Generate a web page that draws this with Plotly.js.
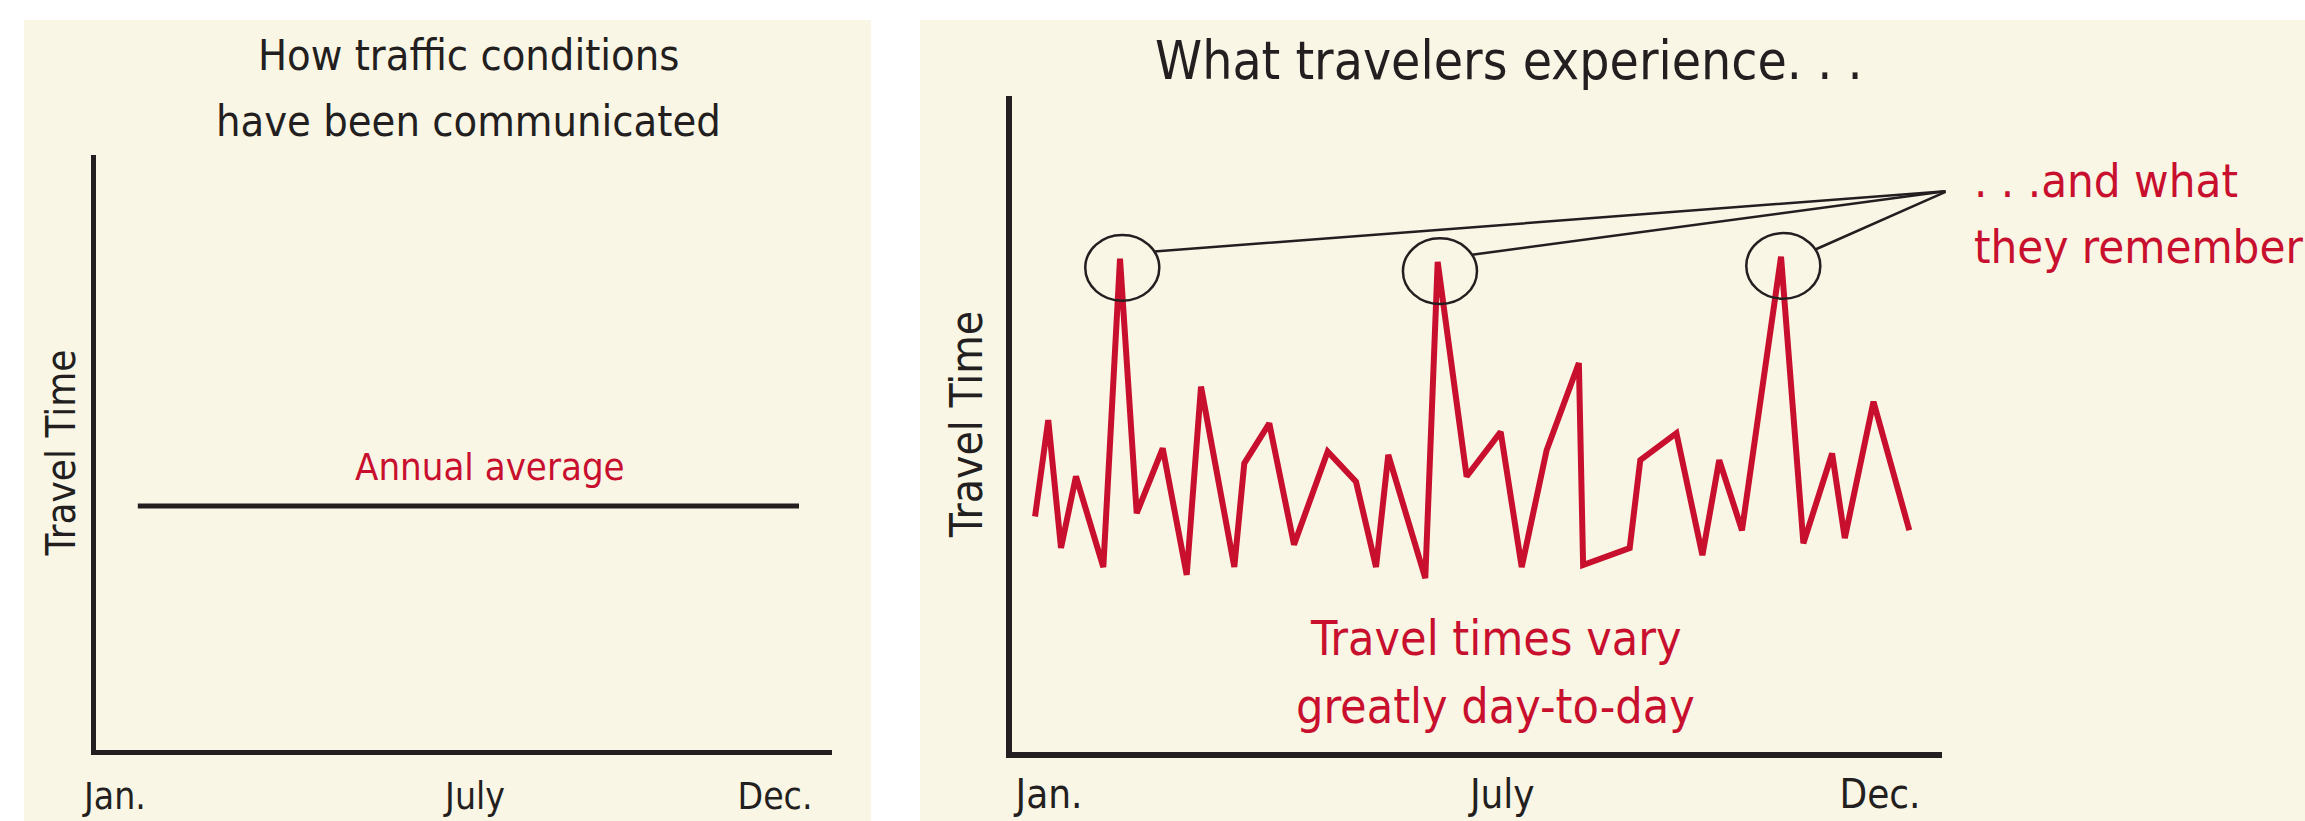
<!DOCTYPE html>
<html><head><meta charset="utf-8">
<script src="https://cdn.plot.ly/plotly-3.0.1.min.js"></script>
<style>html,body{margin:0;padding:0;background:#fff;overflow:hidden}#chart{width:2305px;height:821px}</style>
</head><body><div id="chart"></div>
<script>
// ---- data ----
const monthTickVals = [1, 7, 12];
const monthTickText = ['Jan.', 'July', 'Dec.'];
const annualAverageValue = 41.0;
const annualAverageStart = 1.38;
const annualAverageEnd = 12.4;
const dayMonth = [0.815, 0.99, 1.159, 1.357, 1.719, 1.94, 2.161, 2.505, 2.823, 3.012,
  3.453, 3.585, 3.916, 4.243, 4.689, 5.064, 5.329, 5.491, 5.981, 6.145,
  6.528, 6.979, 7.257, 7.587, 8.014, 8.07, 8.687, 8.827, 9.305, 9.649,
  9.872, 10.173, 10.69, 10.986, 11.366, 11.534, 11.914, 12.388];
const dayTravelTime = [35.9, 50.6, 31.1, 42.0, 28.2, 75.2, 36.4, 46.3, 27.0, 55.7,
  28.2, 44.0, 50.1, 31.6, 45.8, 41.2, 28.2, 45.3, 26.5, 74.7,
  42.0, 48.8, 28.2, 46.0, 59.3, 28.5, 31.1, 44.5, 48.6, 30.0,
  44.5, 33.8, 75.5, 31.8, 45.5, 32.6, 53.4, 33.8];
const rememberedPeaks = [5, 19, 32];

// ---- style ----
const W = 2305, H = 821;
const FONT = '"Liberation Sans Narrow", "DejaVu Sans Condensed", "Liberation Sans", sans-serif';
const CREAM = '#FAF6E6', RED = '#C8102E', INK = '#231F20';
const fx = p => p / W;
const fy = p => 1 - p / H;

const traces = [
  {x: [annualAverageStart, annualAverageEnd], y: [annualAverageValue, annualAverageValue],
   xaxis: 'x', yaxis: 'y', mode: 'lines', line: {color: INK, width: 5}, hoverinfo: 'skip'},
  {x: dayMonth, y: dayTravelTime, xaxis: 'x2', yaxis: 'y2', mode: 'lines',
   line: {color: RED, width: 6}, hoverinfo: 'skip'}
];

const axisCommon = {showgrid: false, zeroline: false, showline: true, linecolor: INK,
  ticks: '', fixedrange: true};

// circles around peaks + leader lines
const rx = 0.49, ry = 5.0;
const meet = {x: 12.887, y: 85.5};
const shapes = [
  {type: 'rect', xref: 'paper', yref: 'paper', x0: fx(24), x1: fx(871), y0: 0, y1: fy(20),
   fillcolor: CREAM, line: {width: 0}, layer: 'below'},
  {type: 'rect', xref: 'paper', yref: 'paper', x0: fx(920), x1: 1, y0: 0, y1: fy(20),
   fillcolor: CREAM, line: {width: 0}, layer: 'below'}
];
const annotations = [];
rememberedPeaks.forEach(i => {
  const cx = dayMonth[i] + 0.03, cy = dayTravelTime[i] - 1.4;
  shapes.push({type: 'circle', xref: 'x2', yref: 'y2', x0: cx - rx, x1: cx + rx,
    y0: cy - ry, y1: cy + ry, line: {color: INK, width: 2.5}, fillcolor: 'rgba(0,0,0,0)'});
  annotations.push({xref: 'x2', yref: 'y2', axref: 'x2', ayref: 'y2',
    x: cx + rx * Math.cos(Math.PI / 6), y: cy + ry * Math.sin(Math.PI / 6),
    ax: meet.x, ay: meet.y, text: '', showarrow: true, arrowhead: 0,
    arrowwidth: 2.5, arrowcolor: INK, standoff: 0, startstandoff: 0});
});

function label(text, x, y, size, color, xanchor, xref, yref, extra) {
  return Object.assign({text, x, y, xref: xref || 'paper', yref: yref || 'paper',
    xanchor: xanchor || 'center', yanchor: 'middle', showarrow: false,
    font: {family: FONT, size, color}}, extra || {});
}
annotations.push(
  label('How traffic conditions', fx(468), fy(55), 43, INK),
  label('have been communicated', fx(468), fy(121), 43, INK),
  label('What travelers experience. . .', fx(1509), fy(60), 53, INK),
  label('Annual average', 7.25, annualAverageValue, 38, RED, 'center', 'x', 'y', {yshift: 39}),
  label('. . .and what', fx(1972), fy(181), 47, RED, 'left'),
  label('they remember', fx(1972), fy(247), 47, RED, 'left'),
  label('Travel times vary', fx(1495), fy(638), 48, RED),
  label('greatly day-to-day', fx(1495), fy(706), 48, RED)
);

const layout = {
  width: W, height: H, margin: {l: 0, r: 0, t: 0, b: 0},
  paper_bgcolor: '#ffffff', plot_bgcolor: 'rgba(0,0,0,0)', showlegend: false,
  font: {family: FONT, color: INK},
  xaxis: Object.assign({}, axisCommon, {domain: [fx(96), fx(832)], range: [0.6833, 12.95],
    anchor: 'y', linewidth: 5, tickvals: monthTickVals, ticktext: monthTickText,
    tickfont: {family: FONT, size: 37, color: INK}, ticklabelstandoff: 10}),
  yaxis: Object.assign({}, axisCommon, {domain: [fy(750), fy(155)], range: [0, 100],
    anchor: 'x', linewidth: 5, showticklabels: false,
    title: {text: 'Travel Time', font: {family: FONT, size: 40, color: INK}, standoff: 5}}),
  xaxis2: Object.assign({}, axisCommon, {domain: [fx(1012), fx(1942)], range: [0.5102, 12.8207],
    anchor: 'y2', linewidth: 6, tickvals: monthTickVals, ticktext: monthTickText,
    tickfont: {family: FONT, size: 40, color: INK}, ticklabelstandoff: 2}),
  yaxis2: Object.assign({}, axisCommon, {domain: [fy(752), fy(96)], range: [0, 100],
    anchor: 'x2', linewidth: 6, showticklabels: false,
    title: {text: 'Travel Time', font: {family: FONT, size: 44, color: INK}, standoff: 12}}),
  shapes, annotations
};

Plotly.newPlot('chart', traces, layout, {staticPlot: true, displayModeBar: false});
</script></body></html>
